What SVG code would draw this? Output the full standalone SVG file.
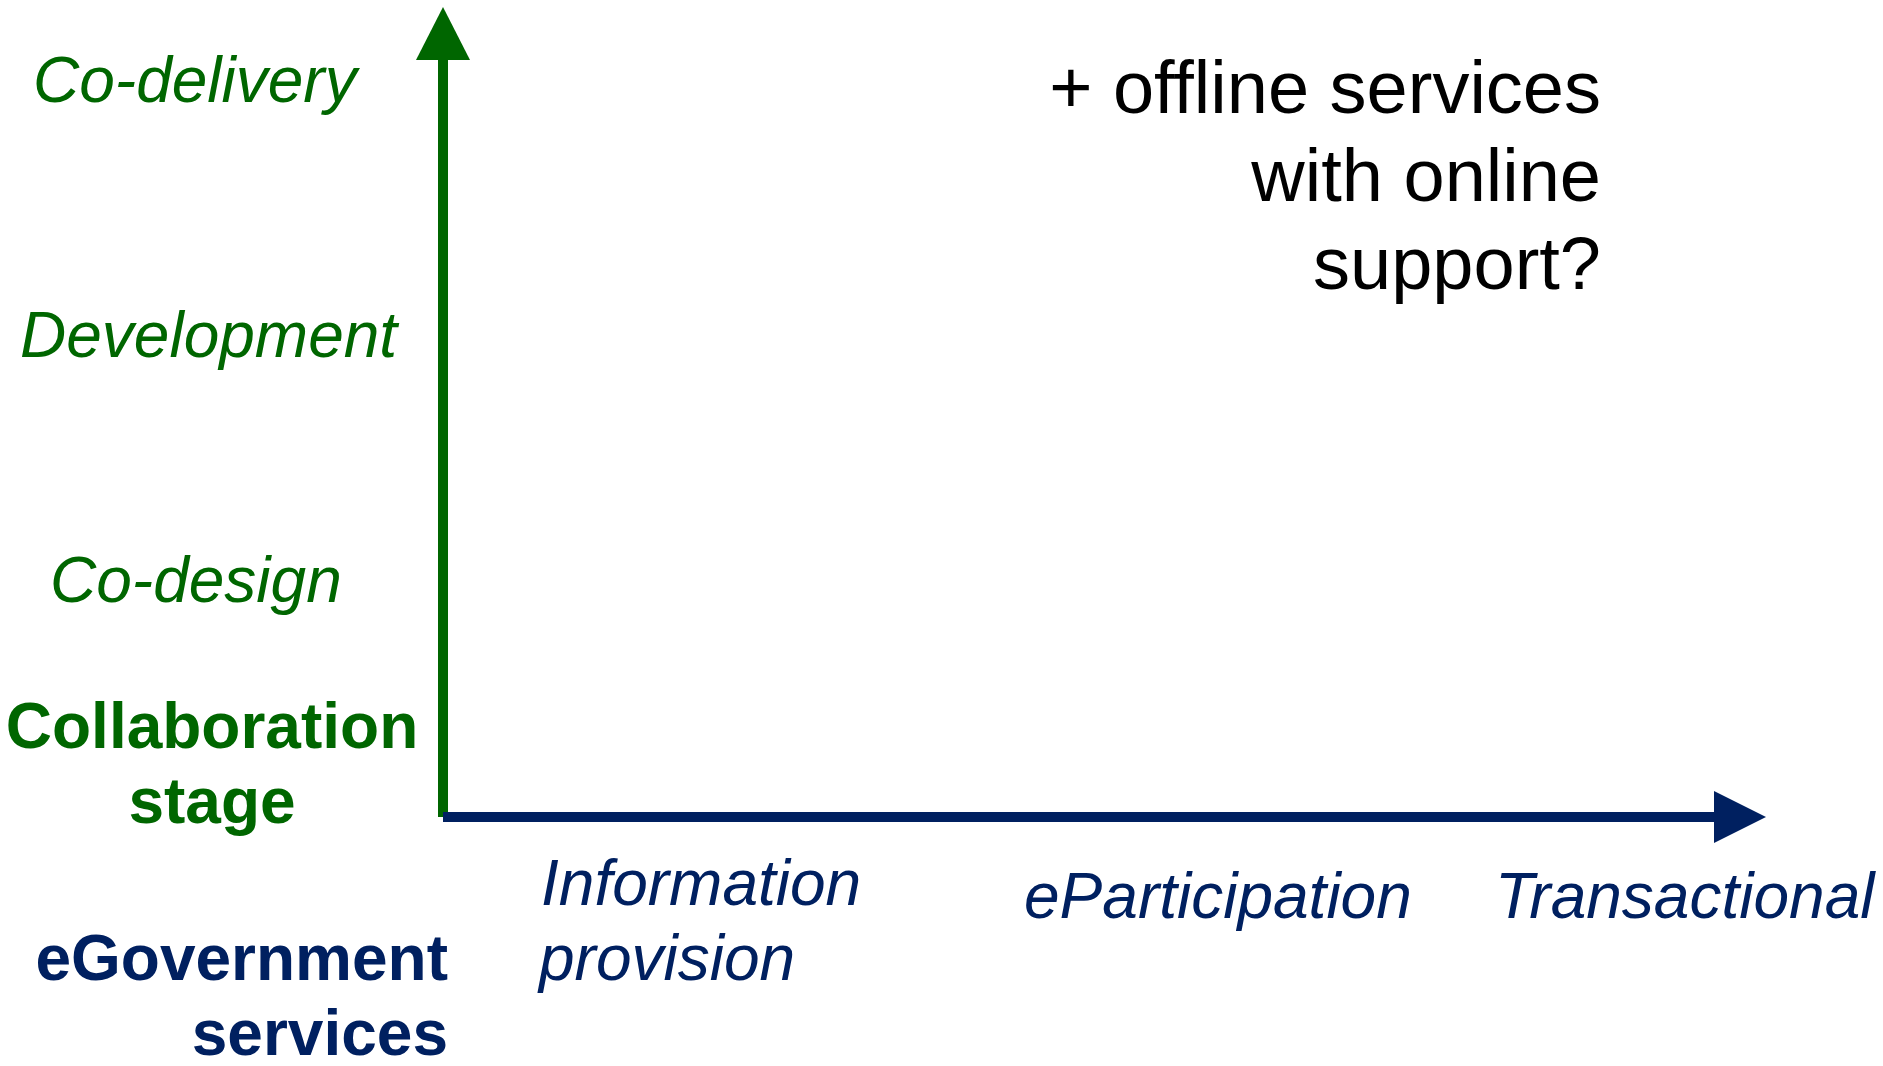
<svg xmlns="http://www.w3.org/2000/svg" width="1883" height="1066" viewBox="0 0 1883 1066">
<style>
  text { font-family: "Liberation Sans", Arial, sans-serif; font-size: 64px; }
  .g { fill: #006600; }
  .b { fill: #002060; }
  .it { font-style: italic; }
  .bd { font-weight: bold; }
  .note { fill: #000000; font-size: 74px; text-anchor: end; }
</style>
<rect width="1883" height="1066" fill="#ffffff"/>
<g id="connectors">
  <g id="y-axis">
    <line x1="443" y1="817" x2="443" y2="56" stroke="#006600" stroke-width="10"/>
    <polygon points="443,7 416,60 470,60" fill="#006600"/>
  </g>
  <g id="x-axis">
    <line x1="443" y1="817" x2="1718" y2="817" stroke="#002060" stroke-width="10"/>
    <polygon points="1766,817 1714,791 1714,843" fill="#002060"/>
  </g>
</g>
<g id="co-delivery"><text class="g it" x="33" y="102">Co-delivery</text></g>
<g id="development"><text class="g it" x="20" y="357">Development</text></g>
<g id="co-design"><text class="g it" x="50" y="602">Co-design</text></g>
<g id="collaboration-stage">
  <text class="g bd" text-anchor="middle" x="212" y="748">Collaboration</text>
  <text class="g bd" text-anchor="middle" x="212" y="823">stage</text>
</g>
<g id="egovernment-services">
  <text class="b bd" text-anchor="end" x="448" y="980">eGovernment</text>
  <text class="b bd" text-anchor="end" x="448" y="1055">services</text>
</g>
<g id="information-provision">
  <text class="b it" x="541" y="905">Information</text>
  <text class="b it" x="539" y="980">provision</text>
</g>
<g id="eparticipation"><text class="b it" x="1024" y="918">eParticipation</text></g>
<g id="transactional"><text class="b it" x="1495" y="918">Transactional</text></g>
<g id="offline-note">
  <text class="note" x="1601" y="113">+ offline services</text>
  <text class="note" x="1601" y="201">with online</text>
  <text class="note" x="1601" y="289">support?</text>
</g>
</svg>
